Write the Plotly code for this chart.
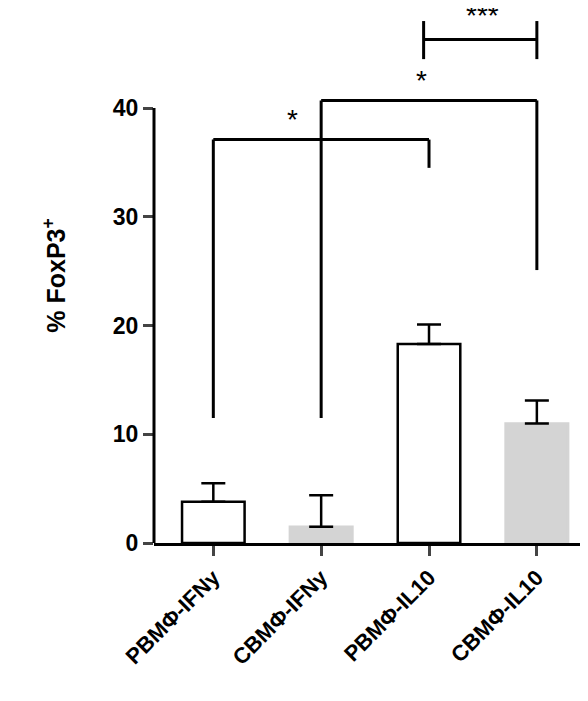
import plotly.graph_objects as go

groups = ['PBMΦ-IFNy', 'CBMΦ-IFNy', 'PBMΦ-IL10', 'CBMΦ-IL10']
means = [3.8, 1.5, 18.3, 11.0]
sem = [1.7, 2.9, 1.8, 2.1]
fills = ['white', '#d4d4d4', 'white', '#d4d4d4']
edges = ['black', '#d4d4d4', 'black', '#d4d4d4']

# significance brackets: (left bar, right bar, top y, left leg end, right leg end, label, label x)
brackets = [
    (0, 2, 37.1, 11.5, 34.5, '*', 0.73),
    (1, 3, 40.7, 11.5, 25.1, '*', 1.93),
]

fig = go.Figure()
fig.add_trace(go.Bar(
    x=list(range(4)), y=means, width=0.58,
    marker=dict(color=fills, line=dict(color=edges, width=2.5)),
    error_y=dict(type='data', array=sem, arrayminus=[0] * 4, symmetric=False,
                 color='black', thickness=2.5, width=12),
))

line = dict(color='black', width=3)
for a, b, top, la, lb, lab, lx in brackets:
    fig.add_shape(type='line', x0=a, x1=a, y0=la, y1=top, line=line)
    fig.add_shape(type='line', x0=a, x1=b, y0=top, y1=top, line=line)
    fig.add_shape(type='line', x0=b, x1=b, y0=top, y1=lb, line=line)
    fig.add_annotation(x=lx, y=top + 0.2, text=lab, showarrow=False, yanchor='bottom',
                       font=dict(size=28, color='black'))

# *** bracket with end caps
fig.add_shape(type='line', x0=1.95, x1=3, y0=46.3, y1=46.3, line=line)
fig.add_shape(type='line', x0=1.95, x1=1.95, y0=44.5, y1=48, line=line)
fig.add_shape(type='line', x0=3, x1=3, y0=44.5, y1=48, line=line)
fig.add_annotation(x=2.5, y=46.9, text='***', showarrow=False, yanchor='bottom',
                   font=dict(size=28, color='black'))

# y axis line only up to 40
fig.add_shape(type='line', xref='paper', x0=0, x1=0, y0=0, y1=40, line=line)

fig.update_layout(
    width=588, height=701, plot_bgcolor='white', paper_bgcolor='white',
    margin=dict(l=146, r=16, t=0, b=166, autoexpand=False), showlegend=False,
    font=dict(family='Liberation Sans, Arial', color='black'),
    xaxis=dict(range=[-0.55, 3.4], tickmode='array', tickvals=list(range(4)),
               ticktext=['<b>%s</b>' % g for g in groups], tickangle=-45,
               tickfont=dict(size=22), ticks='outside', ticklen=10, tickwidth=3,
               showline=True, linecolor='black', linewidth=3, showgrid=False,
               automargin=False),
    yaxis=dict(range=[0, 49.2], tickmode='array', tickvals=[0, 10, 20, 30, 40],
               ticktext=['<b>%d</b>' % v for v in [0, 10, 20, 30, 40]],
               tickfont=dict(size=23), ticks='outside', ticklen=10, tickwidth=3,
               showline=False, showgrid=False, zeroline=False, automargin=False,
               title=dict(text='<b>% FoxP3<sup>+</sup></b>', font=dict(size=25), standoff=40)),
)

fig.write_html('out.html')
